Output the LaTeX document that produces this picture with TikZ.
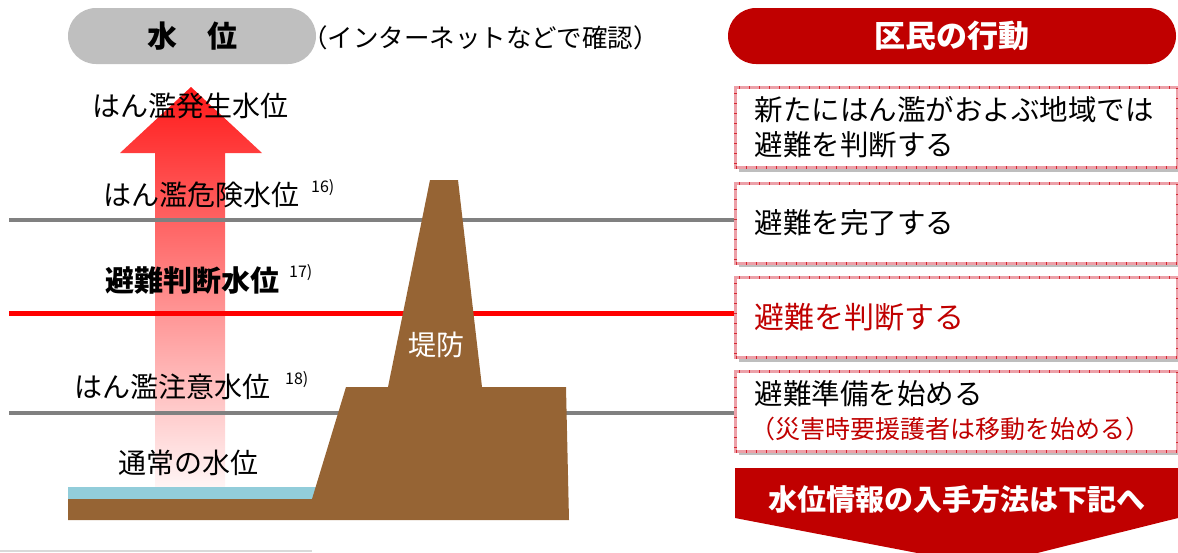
\documentclass[tikz,border=0pt]{standalone}
\usepackage{fontspec}
\setmainfont{Noto Sans CJK JP}
\definecolor{dikebrown}{RGB}{150,100,52}
\definecolor{waterblue}{RGB}{146,205,218}
\definecolor{dred}{RGB}{192,0,0}
\definecolor{pillgray}{RGB}{191,191,191}
\definecolor{lvgray}{RGB}{128,128,128}
\definecolor{bandpink}{RGB}{236,160,168}
\definecolor{tickred}{RGB}{214,40,50}
\definecolor{shadowgray}{RGB}{190,190,190}
\tikzset{
  lbl/.style={inner sep=0pt, anchor=west, font=\fontsize{28}{34}\selectfont},
  supl/.style={inner sep=0pt, anchor=west, font=\fontsize{16}{18}\selectfont},
  pill/.style={rounded corners=28pt, inner sep=0pt, minimum height=56pt},
  shadowbox/.style={fill=shadowgray},
  actbox/.style={draw=bandpink, line width=3pt, fill=white,
    postaction={draw=tickred, line width=3pt, dash pattern=on 1pt off 9pt},
    anchor=north west, text width=404pt, inner xsep=19pt, inner ysep=0pt,
    minimum height=80pt, align=left, font=\fontsize{28.5}{35}\selectfont},
  lvline/.style={draw=lvgray, line width=4.5pt},
  redline/.style={draw=red, line width=5pt}
}
\begin{document}
\begin{tikzpicture}[x=1pt,y=-1pt]
\useasboundingbox (0,0) rectangle (1178,552);
\clip (0,0) rectangle (1178,552);
% rising arrow
\shade[top color={rgb,255:red,255;green,25;blue,25}, middle color={rgb,255:red,255;green,195;blue,195}, bottom color=white]
  (155,505) -- (155,153) -- (120,153) -- (191,87) -- (262,153) -- (225,153) -- (225,505) -- cycle;
% header pills
\node[pill, fill=pillgray, minimum width=248pt] (hw) at (192,36) {\fontsize{30}{34}\selectfont\bfseries 水　位};
\node[lbl, font=\fontsize{25.5}{30}\selectfont] (note) at (302,38) {（インターネットなどで確認）};
\node[pill, fill=dred, minimum width=448pt, text=white] (ha) at (952,36) {\fontsize{31}{34}\selectfont\bfseries 区民の行動};
% box shadows
\fill[shadowbox] (739,90) rectangle (1182,172);
\fill[shadowbox] (739,186) rectangle (1182,267);
\fill[shadowbox] (739,280) rectangle (1182,362);
\fill[shadowbox] (739,374) rectangle (1182,455);
% action boxes
\node[actbox] (b1) at (734,85.5) {新たにはん濫がおよぶ地域では\\避難を判断する};
\node[actbox] (b2) at (734,181.5) {避難を完了する};
\node[actbox, text=dred, font=\fontsize{30}{35}\selectfont] (b3) at (734,275.5) {避難を判断する};
\node[actbox] (b4) at (734,369.5) {避難準備を始める\\[-1pt]{\color{dred}\fontsize{25}{30}\selectfont\hspace*{-4pt}（災害時要援護者は移動を始める）}};
% level lines
\coordinate (lv1) at (9,220);
\coordinate (lv2) at (9,313);
\coordinate (lv3) at (9,413);
\draw[lvline] (lv1) -- (lv1 -| b2.west);
\draw[redline] (lv2) -- (lv2 -| b3.west);
\draw[lvline] (lv3) -- (lv3 -| b4.west);
% water and dike
\fill[waterblue] (68,487) rectangle (318,499);
\fill[dikebrown] (68,499) -- (312,499) -- (346,387) -- (388,387) -- (430,180) -- (458,180)
  -- (482,387) -- (566,387) -- (569,520) -- (68,520) -- cycle;
\node[inner sep=0pt, text=white, font=\fontsize{28}{32}\selectfont] (dk) at (436,345) {堤防};
\fill[black!15] (0,549.5) rectangle (312,552);
% level labels
\node[lbl] (t1) at (92,106) {はん濫発生水位};
\node[lbl] (t2) at (103,195) {はん濫危険水位};
\node[supl] (s2) at (311,188) {16)};
\node[lbl, font=\fontsize{29}{34}\selectfont\bfseries] (t3) at (105,281) {避難判断水位};
\node[supl] (s3) at (289,273) {17)};
\node[lbl] (t4) at (74,387) {はん濫注意水位};
\node[supl] (s4) at (285,380) {18)};
\node[lbl] (t5) at (118,463) {通常の水位};
% info chevron
\fill[dred] (735,468) -- (1178,468) -- (1178,518) -- (985,566) -- (735,518) -- cycle;
\node[inner sep=0pt, text=white, font=\fontsize{29}{34}\selectfont\bfseries] (info) at (957,500) {水位情報の入手方法は下記へ};
\end{tikzpicture}
\end{document}
